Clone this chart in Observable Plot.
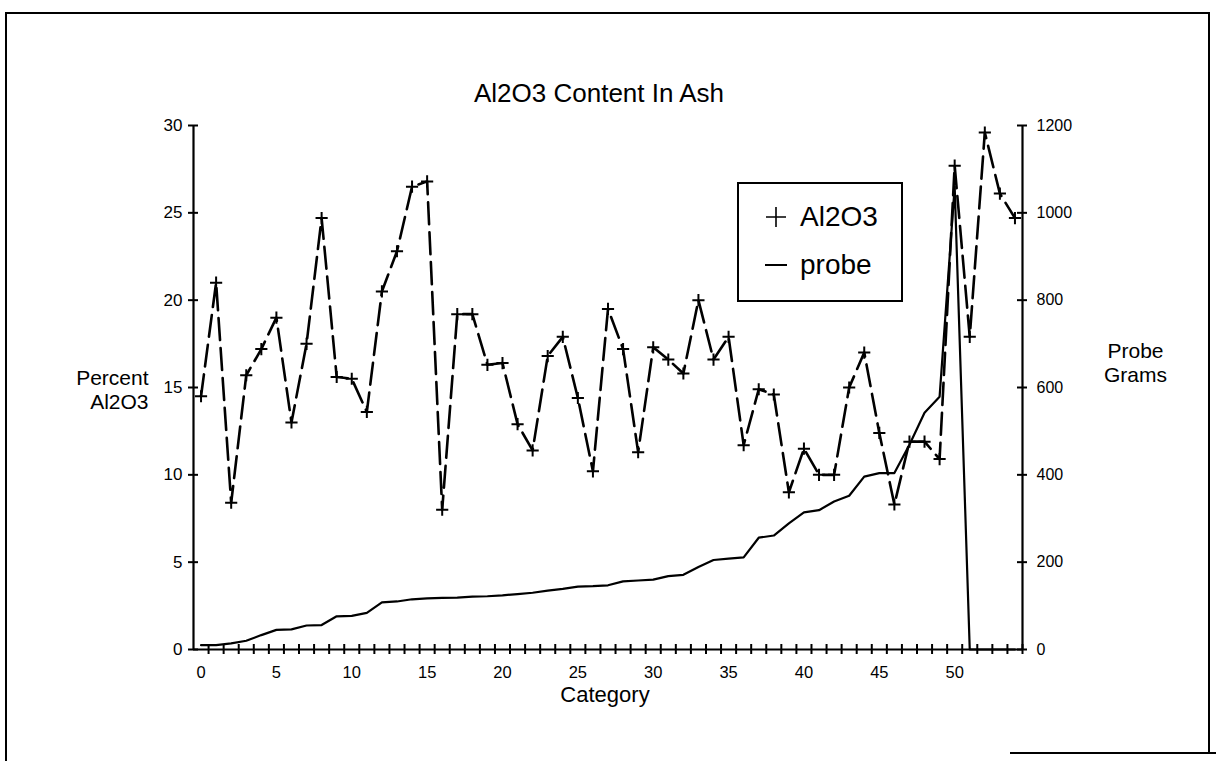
<!DOCTYPE html>
<html>
<head>
<meta charset="utf-8">
<script src="https://cdn.jsdelivr.net/npm/d3@7"></script>
<script src="https://cdn.jsdelivr.net/npm/@observablehq/plot@0.6"></script>
<style>
  html, body { margin: 0; padding: 0; background: #fff; }
  body { font-family: "Liberation Sans", Arial, Helvetica, sans-serif; color: #000; }
  #wrap { position: relative; width: 1216px; height: 761px; overflow: hidden; background: #fff; }
  #wrap svg.chart { position: absolute; left: 0; top: 0; }
  .edge { position: absolute; background: #000; }
  #legend {
    position: absolute; left: 737px; top: 182px; width: 162px; height: 116px;
    border: 2px solid #000; background: #fff; box-sizing: content-box;
  }
  #legend .lg-row { position: absolute; left: 0; height: 30px; display: flex; align-items: center; }
  #legend .lg-row svg { display: block; margin-left: 26px; margin-right: 13px; }
  #legend .lg-row span { font-size: 28px; line-height: 30px; white-space: nowrap; }
</style>
</head>
<body>
<div id="wrap">
  <div class="edge" style="left:5px; top:12px; width:2px; height:749px;"></div>
  <div class="edge" style="left:5px; top:12px; width:1205px; height:2px;"></div>
  <div class="edge" style="left:1208px; top:12px; width:2px; height:741px;"></div>
  <div class="edge" style="left:1010px; top:752px; width:206px; height:2px;"></div>
</div>
<script>
// ---- data ----
const categories = [0,1,2,3,4,5,6,7,8,9,10,11,12,13,14,15,16,17,18,19,20,21,22,23,24,25,26,27,28,29,30,31,32,33,34,35,36,37,38,39,40,41,42,43,44,45,46,47,48,49,50,51,52,53,54];
const al2o3 = [14.5,21.0,8.4,15.7,17.2,19.0,13.0,17.5,24.7,15.6,15.5,13.6,20.5,22.8,26.5,26.8,8.0,19.2,19.2,16.3,16.4,12.9,11.4,16.8,17.9,14.4,10.2,19.5,17.2,11.3,17.3,16.6,15.8,20.0,16.6,17.9,11.7,14.9,14.6,9.0,11.5,10.0,10.0,15.0,17.0,12.4,8.3,11.9,11.9,10.9,27.7,17.9,29.6,26.1,24.7];
const probe = [10,10,14,20,33,45,46,55,56,76,77,84,108,110,115,117,118,119,121,122,124,127,130,135,139,144,145,147,156,158,160,168,171,189,205,208,211,256,261,289,314,319,339,352,396,404,404,469,542,579,1060,0,0,0,0];
const leftTicks = [0,5,10,15,20,25,30];
const rightTicks = [0,200,400,600,800,1000,1200];
const xTickLabels = [0,5,10,15,20,25,30,35,40,45,50];
const seriesNames = ["Al2O3","probe"];
const title = "Al2O3 Content In Ash";
const xTitle = "Category";
const yLeftTitle = "Percent\nAl2O3";
const yRightTitle = "Probe\nGrams";

// ---- derived ----
const leftMax = leftTicks[leftTicks.length - 1];
const rightMax = rightTicks[rightTicks.length - 1];
const ratio = leftMax / rightMax;  // maps right-axis values onto the left scale
const xDomain = [categories[0] - 0.5, categories[categories.length - 1] + 0.5];
const boundaries = categories.map(c => c + 0.5);
const rows = categories.map((c, i) => ({c, a: al2o3[i], p: probe[i]}));
const font = "Liberation Sans, Arial, Helvetica, sans-serif";

const chart = Plot.plot({
  width: 1216,
  height: 761,
  marginLeft: 193,
  marginRight: 194,
  marginTop: 125,
  marginBottom: 112,
  x: {domain: xDomain, axis: null},
  y: {domain: [0, leftMax], axis: null},
  style: {fontFamily: font, color: "#000", background: "transparent", overflow: "visible"},
  marks: [
    // axis lines
    Plot.ruleX(xDomain, {stroke: "#000", strokeWidth: 2.2}),
    Plot.ruleY([0], {stroke: "#000", strokeWidth: 2.2}),
    // left axis: crossing ticks + labels
    Plot.ruleY(leftTicks, {x1: xDomain[0], x2: xDomain[0], insetLeft: -5, insetRight: -5, stroke: "#000", strokeWidth: 2}),
    Plot.axisY(leftTicks, {anchor: "left", tickSize: 0, tickPadding: 11, fontSize: 17, label: null}),
    // right axis: crossing ticks + labels (right values mapped onto the shared scale)
    Plot.ruleY(leftTicks, {x1: xDomain[1], x2: xDomain[1], insetLeft: -5, insetRight: -5, stroke: "#000", strokeWidth: 2}),
    Plot.axisY(leftTicks, {anchor: "right", tickSize: 0, tickPadding: 14, fontSize: 16, tickFormat: d => String(Math.round(d / ratio)), label: null}),
    // x axis: crossing ticks at category boundaries + labels at category centres
    Plot.ruleX(boundaries, {y1: 0, y2: 0, insetTop: -5, insetBottom: -5, stroke: "#000", strokeWidth: 2}),
    Plot.axisX(xTickLabels, {anchor: "bottom", tickSize: 0, tickPadding: 17, fontSize: 16.5, label: null}),
    // series
    Plot.line(rows, {x: "c", y: d => d.p * ratio, stroke: "#000", strokeWidth: 2.2}),
    Plot.line(rows, {x: "c", y: "a", stroke: "#000", strokeWidth: 2.6, strokeDasharray: "22,8"}),
    Plot.dot(rows, {x: "c", y: "a", symbol: "plus", r: 4, stroke: "#000", strokeWidth: 2}),
    // titles
    Plot.text([title], {text: d => d, frameAnchor: "top", dx: -9, dy: -24, lineAnchor: "bottom", fontSize: 26}),
    Plot.text([xTitle], {text: d => d, frameAnchor: "bottom", lineAnchor: "middle", dx: -3, dy: 45, fontSize: 22}),
    Plot.text([yLeftTitle], {text: d => d, frameAnchor: "left", lineAnchor: "middle", dx: -45, dy: 2, textAnchor: "end", fontSize: 21, lineHeight: 1.13}),
    Plot.text([yRightTitle], {text: d => d, frameAnchor: "right", lineAnchor: "middle", dx: 113, dy: -25, textAnchor: "middle", fontSize: 21, lineHeight: 1.13})
  ]
});
chart.classList.add("chart");

const wrap = document.getElementById("wrap");
wrap.insertBefore(chart, wrap.firstChild);

// legend
const legend = document.createElement("div");
legend.id = "legend";
const plusIcon = '<svg width="22" height="22" viewBox="-11 -11 22 22"><path d="M-10,0H10M0,-10V10" stroke="#000" stroke-width="1.6"/></svg>';
const dashIcon = '<svg width="22" height="22" viewBox="-11 -11 22 22"><path d="M-11,0H11" stroke="#000" stroke-width="2"/></svg>';
legend.innerHTML =
  `<div class="lg-row" style="top:18px">${plusIcon}<span>${seriesNames[0]}</span></div>` +
  `<div class="lg-row" style="top:66px">${dashIcon}<span>${seriesNames[1]}</span></div>`;
wrap.appendChild(legend);
</script>
</body>
</html>
